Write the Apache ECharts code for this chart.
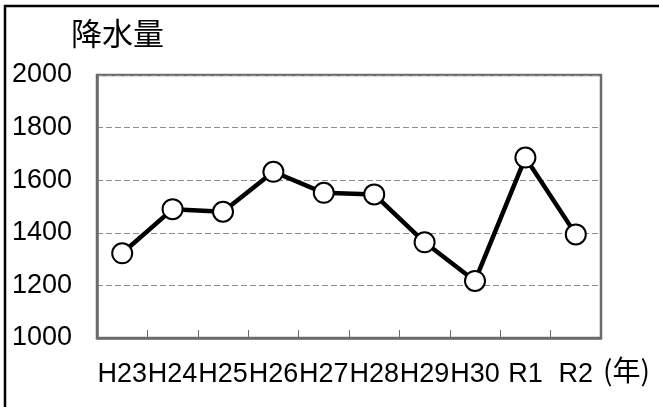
<!DOCTYPE html>
<html>
<head>
<meta charset="utf-8">
<script src="https://cdn.jsdelivr.net/npm/echarts@6/dist/echarts.min.js"></script>
<style>
    html, body { margin: 0; padding: 0; background: #fff; }
    #chart { width: 659px; height: 407px; }
</style>
</head>
<body>
<div id="chart"></div>
<script>
    // 降水量 (年別)
    var years = ['H23', 'H24', 'H25', 'H26', 'H27', 'H28', 'H29', 'H30', 'R1', 'R2'];
    var rainfall = [1322, 1490, 1480, 1632, 1552, 1546, 1364, 1217, 1686, 1394];
    var yMin = 1000;
    var yMax = 2000;
    var yStep = 200;

    var font = '"Liberation Sans", Arial, sans-serif';
    var cjkFont = '"Noto Sans CJK JP", sans-serif';

    var chart = echarts.init(document.getElementById('chart'));
    var option = {
        animation: false,
        backgroundColor: '#fff',
        grid: {
            left: 97,
            right: 58,
            top: 75,
            bottom: 69,
            show: true,
            borderColor: '#6b6b6b',
            borderWidth: 2.5,
            containLabel: false
        },
        graphic: [
            {
                // 外枠 (左・上)
                type: 'polyline',
                shape: { points: [[5, 410], [5, 6], [665, 6]] },
                style: { stroke: '#000', lineWidth: 2.5, fill: null }
            },
            {
                type: 'text',
                left: 71,
                top: 18,
                style: {
                    text: '降水量',
                    font: '31px ' + cjkFont,
                    fill: '#000'
                }
            },
            {
                type: 'text',
                left: 603,
                top: 356,
                style: {
                    text: '(年)',
                    font: '28px ' + cjkFont,
                    fill: '#000'
                }
            }
        ],
        xAxis: {
            type: 'category',
            data: years,
            boundaryGap: true,
            axisLine: {
                show: true,
                lineStyle: { color: '#6b6b6b', width: 2.5 }
            },
            axisTick: {
                show: true,
                inside: true,
                length: 8,
                lineStyle: { color: '#6b6b6b', width: 1 }
            },
            axisLabel: {
                color: '#000',
                fontFamily: font,
                fontSize: 27,
                margin: 23,
                interval: 0
            },
            splitLine: { show: false }
        },
        yAxis: {
            type: 'value',
            min: yMin,
            max: yMax,
            interval: yStep,
            axisLine: {
                show: true,
                lineStyle: { color: '#6b6b6b', width: 2.5 }
            },
            axisTick: { show: false },
            axisLabel: {
                color: '#000',
                fontFamily: font,
                fontSize: 27,
                margin: 25,
                formatter: function (v) { return String(v); }
            },
            splitLine: {
                show: true,
                lineStyle: { color: '#8c8c8c', width: 1, type: [6, 3] }
            }
        },
        series: [
            {
                type: 'line',
                data: rainfall,
                symbol: 'circle',
                symbolSize: 20,
                lineStyle: { color: '#000', width: 4.5 },
                itemStyle: { color: '#fff', borderColor: '#000', borderWidth: 2 },
                z: 3
            }
        ]
    };
    chart.setOption(option);
</script>
</body>
</html>
